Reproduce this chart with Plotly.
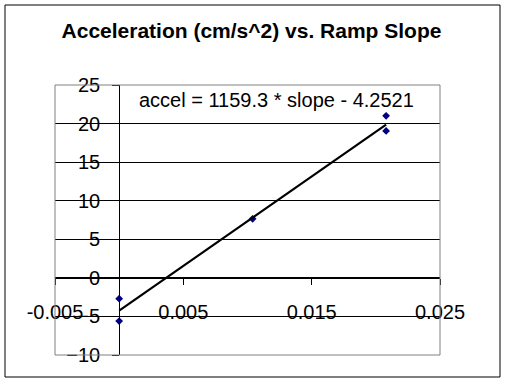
import plotly.graph_objects as go

# Data
slope = [0.0, 0.0, 0.0104, 0.0208, 0.0208]
accel = [-2.7, -5.6, 7.65, 21.0, 19.05]

# Trendline coefficients (as given in the chart label)
fit_m = 1159.3
fit_b = -4.2521
fit_x = [min(slope), max(slope)]
fit_y = [fit_m * v + fit_b for v in fit_x]

x_range = [-0.005, 0.025]
y_range = [-10, 25]
x_ticks = [-0.005, 0.005, 0.015, 0.025]
x_ticklabels = ["-0.005", "0.005", "0.015", "0.025"]
y_ticks = [-10, -5, 0, 5, 10, 15, 20, 25]

title = "Acceleration (cm/s^2) vs. Ramp Slope"
eq_text = "accel = 1159.3 * slope - 4.2521"

FONT = "Liberation Sans, Arial, sans-serif"
W, H = 506, 384
L, R, T, B = 55, 440, 85, 355  # plot area in pixels

fig = go.Figure()
fig.add_trace(go.Scatter(
    x=slope, y=accel, mode="markers",
    marker=dict(symbol="diamond", size=6, color="#000080"),
    showlegend=False, cliponaxis=False))
fig.add_trace(go.Scatter(
    x=fit_x, y=fit_y, mode="lines",
    line=dict(color="black", width=2.2),
    showlegend=False))

xpos = (0 - x_range[0]) / (x_range[1] - x_range[0])
ypos = (0 - y_range[0]) / (y_range[1] - y_range[0])

fig.update_layout(
    width=W, height=H,
    margin=dict(l=L, r=W - R, t=T, b=H - B, pad=0),
    paper_bgcolor="white", plot_bgcolor="white",
    font=dict(family=FONT, color="black"),
    title=dict(text="<b>" + title + "</b>", x=251.5 / W, xref="container", xanchor="center",
               y=1 - 31 / H, yref="container", yanchor="middle",
               font=dict(size=21, family=FONT, color="black")),
    xaxis=dict(range=x_range, tickvals=x_ticks, ticktext=x_ticklabels,
               showgrid=False, zeroline=False,
               showline=True, linecolor="black", linewidth=1,
               ticks="outside", ticklen=6, tickcolor="black",
               ticklabelstandoff=10,
               anchor="free", position=ypos,
               tickfont=dict(size=20, family=FONT, color="black")),
    yaxis=dict(range=y_range, tickvals=y_ticks,
               showgrid=True, gridcolor="black", gridwidth=1,
               zeroline=False,
               showline=True, linecolor="black", linewidth=1,
               ticks="outside", ticklen=7, tickcolor="black",
               ticklabelstandoff=8,
               anchor="free", position=xpos,
               tickfont=dict(size=20, family=FONT, color="black")),
    shapes=[
        dict(type="rect", xref="paper", yref="paper", x0=0, x1=1, y0=0, y1=1,
             line=dict(color="#808080", width=1), layer="above"),
        dict(type="rect", xref="paper", yref="paper",
             x0=(5 - L) / (R - L), x1=(500 - L) / (R - L),
             y0=(B - 377) / (B - T), y1=(B - 5) / (B - T),
             line=dict(color="black", width=1), layer="above"),
    ],
    annotations=[
        dict(text=eq_text, xref="paper", yref="paper",
             x=(137 - L) / (R - L), y=(B - 100) / (B - T),
             xanchor="left", yanchor="middle", showarrow=False,
             font=dict(size=20, family=FONT, color="black")),
    ],
)

fig.write_html("out.html",
               config={"displayModeBar": False},
               post_script="document.body.style.margin='0';document.body.style.overflow='hidden';")
